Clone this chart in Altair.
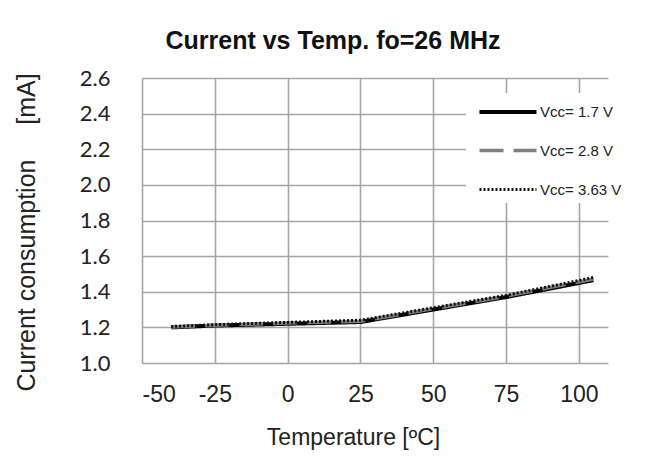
import altair as alt
import pandas as pd

temps = [-40, -25, 0, 25, 50, 75, 105]
i_17 = [1.200, 1.210, 1.220, 1.230, 1.300, 1.370, 1.465]
i_28 = [1.202, 1.212, 1.224, 1.234, 1.305, 1.375, 1.472]
i_363 = [1.205, 1.215, 1.228, 1.240, 1.310, 1.380, 1.480]
series_names = ["Vcc= 1.7 V", "Vcc= 2.8 V", "Vcc= 3.63 V"]
x_ticks = [-50, -25, 0, 25, 50, 75, 100]
y_ticks = [1.0, 1.2, 1.4, 1.6, 1.8, 2.0, 2.2, 2.4, 2.6]

rows = []
for name, vals in zip(series_names, [i_17, i_28, i_363]):
    for t, v in zip(temps, vals):
        rows.append({"series": name, "temp": t, "current": v})
df = pd.DataFrame(rows)

lines = alt.Chart(df).mark_line(strokeCap="butt").encode(
    x=alt.X("temp:Q",
            scale=alt.Scale(domain=[-50, 110], nice=False, zero=False),
            axis=alt.Axis(values=x_ticks,
                          labelExpr="replace(datum.label, '\u2212', '-')",
                          title="Temperature [ºC]",
                          titleX=211, titlePadding=20,
                          labelPadding=20)),
    y=alt.Y("current:Q",
            scale=alt.Scale(domain=[1.0, 2.6], nice=False, zero=False),
            axis=alt.Axis(values=y_ticks,
                          format=".1f",
                          title="Current consumption\u00a0\u00a0\u00a0\u00a0\u00a0[mA]",
                          titleY=154, titlePadding=40, titleFontSize=25,
                          labelPadding=32, labelFont="Lato", labelFontSize=22)),
    color=alt.Color("series:N", sort=series_names,
                    scale=alt.Scale(domain=series_names,
                                    range=["#000000", "#808080", "#111111"]),
                    legend=alt.Legend(title=None, orient="none",
                                      legendX=335, legendY=3,
                                      padding=0,
                                      symbolType="stroke", symbolSize=3250,
                                      labelFont="Liberation Sans",
                                      labelFontSize=15, labelColor="#222222",
                                      labelOffset=1, rowPadding=-20)),
    strokeDash=alt.StrokeDash("series:N", sort=series_names,
                              scale=alt.Scale(domain=series_names,
                                              range=[[1, 0], [24, 10], [2, 2]])),
    strokeWidth=alt.StrokeWidth("series:N", sort=series_names,
                                scale=alt.Scale(domain=series_names,
                                                range=[4, 3, 3])),
)

legend_bg = alt.Chart(pd.DataFrame({"k": [0]})).mark_rect(
    color="white", stroke=None
).encode(
    x=alt.value(324), x2=alt.value(470), y=alt.value(15), y2=alt.value(125)
)

chart = alt.layer(legend_bg, lines).properties(
    width=466, height=285,
    autosize=alt.AutoSizeParams(type="none"),
    padding={"left": 134, "top": 70, "right": 40, "bottom": 88},
    title=alt.Title("Current vs Temp. fo=26 MHz", font="Liberation Sans",
                    fontSize=25, fontWeight="bold", color="#111111",
                    anchor="middle", dx=-42, offset=13),
).configure_view(stroke=None).configure_axis(
    grid=True, gridColor="#a6a6a6", gridWidth=1.6,
    domain=False, ticks=False,
    labelFont="Liberation Sans", labelFontSize=23, labelColor="#222222",
    titleFont="Liberation Sans", titleFontSize=23, titleFontWeight="normal",
    titleColor="#222222",
)

chart.save("out.html", embed_options={"renderer": "svg", "actions": False})
